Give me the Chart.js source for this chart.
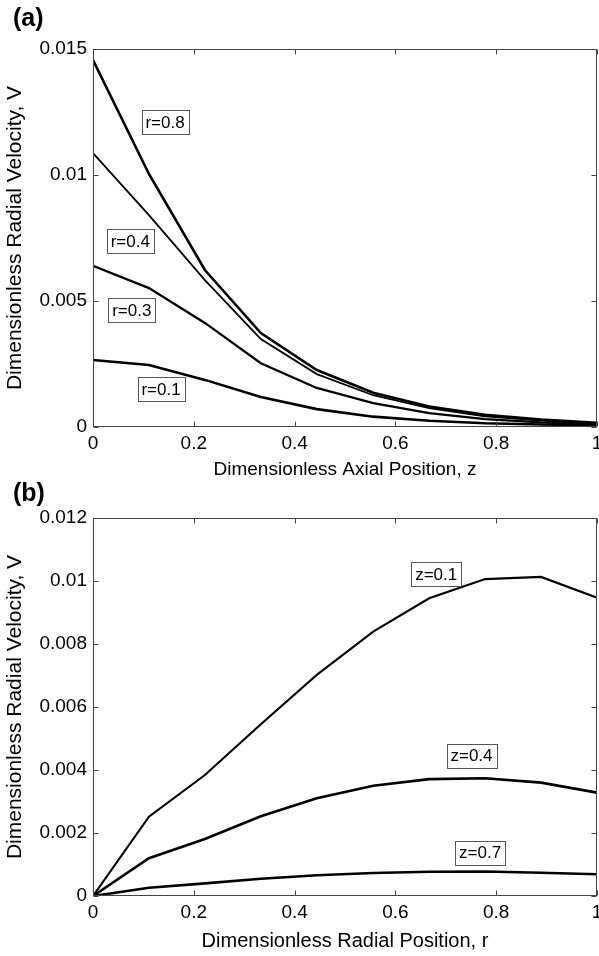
<!DOCTYPE html>
<html>
<head>
<meta charset="utf-8">
<script src="https://cdn.jsdelivr.net/npm/chart.js@4"></script>
<style>
  body { margin: 0; background: #fff; }
  #wrap { position: relative; width: 599px; height: 956px; overflow: hidden; }
  .panel { position: absolute; left: 0; }
  .tag { position: absolute; left: 13px; font: bold 25px "Liberation Sans", Arial, sans-serif; line-height: 1; color: #000; }
</style>
</head>
<body>
<div id="wrap">
  <canvas id="chartA" class="panel" style="top:0" width="599" height="480"></canvas>
  <canvas id="chartB" class="panel" style="top:478px" width="599" height="478"></canvas>
  <div class="tag" style="top:5px">(a)</div>
  <div class="tag" style="top:480px">(b)</div>
</div>
<script>
// grid positions (both panels use the same 10 nodes)
const nodes = [0, 0.111, 0.222, 0.333, 0.444, 0.556, 0.667, 0.778, 0.889, 1];

// (a) V against z for several r
const vR08 = [0.01456, 0.01004, 0.00623, 0.00373, 0.00226, 0.00136, 0.00081, 0.00048, 0.0003, 0.00017];
const vR04 = [0.01087, 0.00841, 0.00583, 0.00349, 0.0021, 0.00126, 0.00075, 0.00042, 0.00025, 0.00013];
const vR03 = [0.0064, 0.00551, 0.00413, 0.00253, 0.00155, 0.00095, 0.00055, 0.00031, 0.00018, 0.0001];
const vR01 = [0.00266, 0.00246, 0.00187, 0.00119, 0.00071, 0.00041, 0.00025, 0.00015, 0.0001, 0.00006];

// (b) V against r for several z
const vZ01 = [0, 0.00252, 0.00384, 0.00545, 0.00702, 0.00839, 0.00945, 0.01006, 0.01013, 0.00947];
const vZ04 = [0, 0.0012, 0.00181, 0.00253, 0.0031, 0.0035, 0.00371, 0.00374, 0.0036, 0.00328];
const vZ07 = [0, 0.00026, 0.0004, 0.00055, 0.00066, 0.00073, 0.00077, 0.00078, 0.00074, 0.00069];

// ticks
const xTicks = [0, 0.2, 0.4, 0.6, 0.8, 1];
const xTickLabels = ["0", "0.2", "0.4", "0.6", "0.8", "1"];
const yTicksA = [0, 0.005, 0.01, 0.015];
const yTickLabelsA = ["0", "0.005", "0.01", "0.015"];
const yTicksB = [0, 0.002, 0.004, 0.006, 0.008, 0.01, 0.012];
const yTickLabelsB = ["0", "0.002", "0.004", "0.006", "0.008", "0.01", "0.012"];

// curve labels, placed in data coordinates
const notesA = [
    { text: "r=0.8", x: 0.143, y: 0.0121 },
    { text: "r=0.4", x: 0.074, y: 0.00738 },
    { text: "r=0.3", x: 0.077, y: 0.00464 },
    { text: "r=0.1", x: 0.135, y: 0.0015 },
];
const notesB = [
    { text: "z=0.1", x: 0.681, y: 0.01022 },
    { text: "z=0.4", x: 0.751, y: 0.00446 },
    { text: "z=0.7", x: 0.768, y: 0.00138 },
];

const FONT = "'Liberation Sans', Arial, sans-serif";

function pts(vals) {
    return nodes.map((x, i) => ({ x: x, y: vals[i] }));
}

// matlab style box with inward ticks + boxed text labels
const matlabBox = {
    id: "matlabBox",
    afterDatasetsDraw(chart, args, opts) {
        const ctx = chart.ctx;
        const a = chart.chartArea;
        const sx = chart.scales.x, sy = chart.scales.y;
        const L = Math.round(a.left) + 0.5, R = Math.round(a.right) - 0.5;
        const T = Math.round(a.top) + 0.5, B = Math.round(a.bottom) - 0.5;
        ctx.save();
        ctx.strokeStyle = "#444";
        ctx.lineWidth = 1;
        ctx.strokeRect(L, T, R - L, B - T);
        ctx.beginPath();
        sx.ticks.forEach(t => {
            const px = Math.round(sx.getPixelForValue(t.value)) + 0.5;
            ctx.moveTo(px, B); ctx.lineTo(px, B - 5);
            ctx.moveTo(px, T); ctx.lineTo(px, T + 5);
        });
        sy.ticks.forEach(t => {
            const py = Math.round(sy.getPixelForValue(t.value)) + 0.5;
            ctx.moveTo(L, py); ctx.lineTo(L + 5, py);
            ctx.moveTo(R, py); ctx.lineTo(R - 5, py);
        });
        ctx.stroke();

        ctx.font = "17px " + FONT;
        ctx.textAlign = "center";
        ctx.textBaseline = "middle";
        (opts.notes || []).forEach(n => {
            const cx = sx.getPixelForValue(n.x);
            const cy = sy.getPixelForValue(n.y);
            const w = Math.round(ctx.measureText(n.text).width + 8);
            const h = 24;
            const bx = Math.round(cx - w / 2) + 0.5, by = Math.round(cy - h / 2) + 0.5;
            ctx.fillStyle = "#fff";
            ctx.fillRect(bx, by, w, h);
            ctx.strokeStyle = "#555";
            ctx.strokeRect(bx, by, w, h);
            ctx.fillStyle = "#000";
            ctx.fillText(n.text, cx, cy + 1);
        });
        ctx.restore();
    }
};

function makeChart(id, sets, yTicks, yLabels, xTitle, pad, xAxisH, xTitleSize, titlePad, notes) {
    const ctx = document.getElementById(id).getContext("2d");
    return new Chart(ctx, {
        type: "line",
        data: {
            datasets: sets.map(s => ({
                data: pts(s.v),
                borderColor: "#000",
                borderWidth: s.w,
                pointRadius: 0,
                tension: 0,
                fill: false,
            })),
        },
        options: {
            responsive: false,
            animation: false,
            layout: { padding: { top: pad, right: 2, left: 0, bottom: 0 } },
            plugins: {
                legend: { display: false },
                tooltip: { enabled: false },
                matlabBox: { notes: notes },
            },
            scales: {
                x: {
                    type: "linear",
                    min: 0, max: 1,
                    grid: { display: false, drawTicks: false },
                    border: { display: false },
                    afterBuildTicks: (s) => { s.ticks = xTicks.map(v => ({ value: v })); },
                    afterFit: (s) => { s.height = xAxisH; s.paddingLeft = 0; s.paddingRight = 0; },
                    ticks: {
                        color: "#000",
                        padding: 5,
                        maxRotation: 0,
                        autoSkip: false,
                        font: { family: FONT, size: 19 },
                        callback: (v) => xTickLabels[xTicks.indexOf(v)],
                    },
                    title: {
                        display: true,
                        text: xTitle,
                        color: "#000",
                        padding: { top: 0, bottom: titlePad },
                        font: { family: FONT, size: xTitleSize, lineHeight: 1 },
                    },
                },
                y: {
                    type: "linear",
                    min: yTicks[0], max: yTicks[yTicks.length - 1],
                    grid: { display: false, drawTicks: false },
                    border: { display: false },
                    afterBuildTicks: (s) => { s.ticks = yTicks.map(v => ({ value: v })); },
                    afterFit: (s) => { s.width = 93; s.paddingTop = 0; s.paddingBottom = 0; },
                    ticks: {
                        color: "#000",
                        padding: 6,
                        autoSkip: false,
                        font: { family: FONT, size: 19 },
                        callback: (v) => yLabels[yTicks.indexOf(v)],
                    },
                    title: {
                        display: true,
                        text: "Dimensionless Radial Velocity, V",
                        color: "#000",
                        padding: { top: 5, bottom: 0 },
                        font: { family: FONT, size: 21, lineHeight: 1 },
                    },
                },
            },
        },
        plugins: [matlabBox],
    });
}

const chartA = makeChart("chartA", [
    { v: vR08, w: 2.6 },
    { v: vR04, w: 1.8 },
    { v: vR03, w: 2.3 },
    { v: vR01, w: 2.6 },
], yTicksA, yTickLabelsA, "Dimensionless Axial Position, z", 49, 53, 19, 1, notesA);

const chartB = makeChart("chartB", [
    { v: vZ01, w: 2.1 },
    { v: vZ04, w: 2.6 },
    { v: vZ07, w: 2.6 },
], yTicksB, yTickLabelsB, "Dimensionless Radial Position, r", 40, 60, 20, 5, notesB);
</script>
</body>
</html>
